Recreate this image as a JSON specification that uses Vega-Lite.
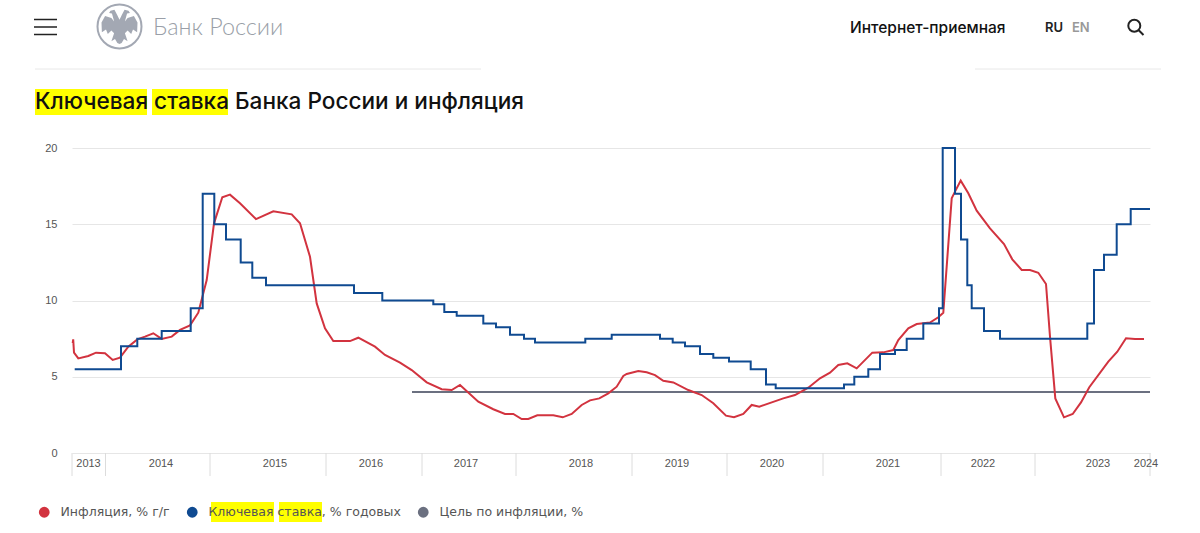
{"$schema":"https://vega.github.io/schema/vega-lite/v6.json","autosize":{"type":"none"},"padding":{"left":72,"top":148,"right":50,"bottom":80},"width":1078,"height":305,"background":"white",
"title":{"text":"Ключевая ставка Банка России и инфляция","anchor":"start","frame":"group","dx":-37,"offset":0,"dy":113,"font":"Inter","fontSize":22.6,"fontWeight":500,"color":"#111111"},
"config":{"view":{"stroke":null},"font":"Liberation Sans"},
"datasets":{
"inflation":[{"t":0.7,"v":7.2,"s":"Инфляция, % г/г"},{"t":1.2,"v":7.45,"s":"Инфляция, % г/г"},{"t":2,"v":6.58,"s":"Инфляция, % г/г"},{"t":6.3,"v":6.2,"s":"Инфляция, % г/г"},{"t":16.3,"v":6.36,"s":"Инфляция, % г/г"},{"t":24,"v":6.58,"s":"Инфляция, % г/г"},{"t":33,"v":6.54,"s":"Инфляция, % г/г"},{"t":40.7,"v":6.1,"s":"Инфляция, % г/г"},{"t":48,"v":6.25,"s":"Инфляция, % г/г"},{"t":56.3,"v":6.97,"s":"Инфляция, % г/г"},{"t":65.3,"v":7.45,"s":"Инфляция, % г/г"},{"t":73,"v":7.63,"s":"Инфляция, % г/г"},{"t":81.3,"v":7.85,"s":"Инфляция, % г/г"},{"t":89.7,"v":7.48,"s":"Инфляция, % г/г"},{"t":99.7,"v":7.63,"s":"Инфляция, % г/г"},{"t":108,"v":8.07,"s":"Инфляция, % г/г"},{"t":118,"v":8.37,"s":"Инфляция, % г/г"},{"t":126.3,"v":9.2,"s":"Инфляция, % г/г"},{"t":134.7,"v":11.34,"s":"Инфляция, % г/г"},{"t":142,"v":15.06,"s":"Инфляция, % г/г"},{"t":150.3,"v":16.77,"s":"Инфляция, % г/г"},{"t":158,"v":16.94,"s":"Инфляция, % г/г"},{"t":168,"v":16.37,"s":"Инфляция, % г/г"},{"t":184,"v":15.34,"s":"Инфляция, % г/г"},{"t":201.3,"v":15.85,"s":"Инфляция, % г/г"},{"t":219.7,"v":15.65,"s":"Инфляция, % г/г"},{"t":228,"v":15.06,"s":"Инфляция, % г/г"},{"t":238,"v":12.87,"s":"Инфляция, % г/г"},{"t":244.7,"v":9.81,"s":"Инфляция, % г/г"},{"t":253,"v":8.18,"s":"Инфляция, % г/г"},{"t":261.3,"v":7.34,"s":"Инфляция, % г/г"},{"t":278,"v":7.34,"s":"Инфляция, % г/г"},{"t":286.3,"v":7.56,"s":"Инфляция, % г/г"},{"t":303,"v":6.97,"s":"Инфляция, % г/г"},{"t":313,"v":6.43,"s":"Инфляция, % г/г"},{"t":328,"v":5.92,"s":"Инфляция, % г/г"},{"t":339.7,"v":5.44,"s":"Инфляция, % г/г"},{"t":354.7,"v":4.63,"s":"Инфляция, % г/г"},{"t":369.7,"v":4.18,"s":"Инфляция, % г/г"},{"t":379.7,"v":4.13,"s":"Инфляция, % г/г"},{"t":388,"v":4.46,"s":"Инфляция, % г/г"},{"t":406.3,"v":3.36,"s":"Инфляция, % г/г"},{"t":421.3,"v":2.87,"s":"Инфляция, % г/г"},{"t":433,"v":2.56,"s":"Инфляция, % г/г"},{"t":441.3,"v":2.56,"s":"Инфляция, % г/г"},{"t":449.7,"v":2.23,"s":"Инфляция, % г/г"},{"t":456.3,"v":2.23,"s":"Инфляция, % г/г"},{"t":465.3,"v":2.47,"s":"Инфляция, % г/г"},{"t":481.3,"v":2.47,"s":"Инфляция, % г/г"},{"t":490.7,"v":2.34,"s":"Инфляция, % г/г"},{"t":499.7,"v":2.56,"s":"Инфляция, % г/г"},{"t":509.7,"v":3.15,"s":"Инфляция, % г/г"},{"t":518,"v":3.45,"s":"Инфляция, % г/г"},{"t":527.3,"v":3.58,"s":"Инфляция, % г/г"},{"t":536.3,"v":3.91,"s":"Инфляция, % г/г"},{"t":544.7,"v":4.35,"s":"Инфляция, % г/г"},{"t":551.3,"v":5.05,"s":"Инфляция, % г/г"},{"t":554.7,"v":5.18,"s":"Инфляция, % г/г"},{"t":566.3,"v":5.38,"s":"Инфляция, % г/г"},{"t":574.7,"v":5.29,"s":"Инфляция, % г/г"},{"t":583,"v":5.11,"s":"Инфляция, % г/г"},{"t":591.3,"v":4.74,"s":"Инфляция, % г/г"},{"t":601.3,"v":4.63,"s":"Инфляция, % г/г"},{"t":616.3,"v":4.13,"s":"Инфляция, % г/г"},{"t":629.7,"v":3.8,"s":"Инфляция, % г/г"},{"t":641.3,"v":3.26,"s":"Инфляция, % г/г"},{"t":654,"v":2.45,"s":"Инфляция, % г/г"},{"t":662,"v":2.34,"s":"Инфляция, % г/г"},{"t":671.3,"v":2.56,"s":"Инфляция, % г/г"},{"t":679.7,"v":3.15,"s":"Инфляция, % г/г"},{"t":687.3,"v":3.04,"s":"Инфляция, % г/г"},{"t":711.3,"v":3.58,"s":"Инфляция, % г/г"},{"t":723,"v":3.8,"s":"Инфляция, % г/г"},{"t":736.3,"v":4.28,"s":"Инфляция, % г/г"},{"t":748,"v":4.9,"s":"Инфляция, % г/г"},{"t":758,"v":5.27,"s":"Инфляция, % г/г"},{"t":766.3,"v":5.77,"s":"Инфляция, % г/г"},{"t":775.3,"v":5.88,"s":"Инфляция, % г/г"},{"t":784.7,"v":5.55,"s":"Инфляция, % г/г"},{"t":800.3,"v":6.58,"s":"Инфляция, % г/г"},{"t":811.3,"v":6.6,"s":"Инфляция, % г/г"},{"t":821.3,"v":6.75,"s":"Инфляция, % г/г"},{"t":826.3,"v":7.41,"s":"Инфляция, % г/г"},{"t":836.3,"v":8.18,"s":"Инфляция, % г/г"},{"t":844.7,"v":8.46,"s":"Инфляция, % г/г"},{"t":858,"v":8.55,"s":"Инфляция, % г/г"},{"t":866.3,"v":8.9,"s":"Инфляция, % г/г"},{"t":871.3,"v":9.2,"s":"Инфляция, % г/г"},{"t":879.7,"v":16.7,"s":"Инфляция, % г/г"},{"t":883,"v":17.14,"s":"Инфляция, % г/г"},{"t":888.7,"v":17.86,"s":"Инфляция, % г/г"},{"t":896.3,"v":17.03,"s":"Инфляция, % г/г"},{"t":904.7,"v":15.89,"s":"Инфляция, % г/г"},{"t":918,"v":14.73,"s":"Инфляция, % г/г"},{"t":932,"v":13.7,"s":"Инфляция, % г/г"},{"t":940.3,"v":12.7,"s":"Инфляция, % г/г"},{"t":949.7,"v":12,"s":"Инфляция, % г/г"},{"t":958,"v":12,"s":"Инфляция, % г/г"},{"t":966.3,"v":11.82,"s":"Инфляция, % г/г"},{"t":974,"v":11.08,"s":"Инфляция, % г/г"},{"t":978,"v":7.63,"s":"Инфляция, % г/г"},{"t":983.3,"v":3.58,"s":"Инфляция, % г/г"},{"t":992,"v":2.34,"s":"Инфляция, % г/г"},{"t":1000.7,"v":2.56,"s":"Инфляция, % г/г"},{"t":1009,"v":3.32,"s":"Инфляция, % г/г"},{"t":1017.3,"v":4.31,"s":"Инфляция, % г/г"},{"t":1036.3,"v":5.99,"s":"Инфляция, % г/г"},{"t":1045.3,"v":6.64,"s":"Инфляция, % г/г"},{"t":1054,"v":7.52,"s":"Инфляция, % г/г"},{"t":1063,"v":7.48,"s":"Инфляция, % г/г"},{"t":1072,"v":7.48,"s":"Инфляция, % г/г"}],
"rate":[{"t":2.7,"v":5.5},{"t":49,"v":7},{"t":65.3,"v":7.5},{"t":89.7,"v":8},{"t":118.7,"v":9.5},{"t":130.7,"v":17},{"t":142.3,"v":15},{"t":154,"v":14},{"t":168.7,"v":12.5},{"t":180.3,"v":11.5},{"t":194,"v":11},{"t":282,"v":10.5},{"t":310.3,"v":10},{"t":361.3,"v":9.75},{"t":372.3,"v":9.25},{"t":384.7,"v":9},{"t":411.3,"v":8.5},{"t":424,"v":8.25},{"t":438,"v":7.75},{"t":452,"v":7.5},{"t":463,"v":7.25},{"t":513.3,"v":7.5},{"t":539.7,"v":7.75},{"t":588,"v":7.5},{"t":600.7,"v":7.25},{"t":613,"v":7},{"t":628,"v":6.5},{"t":641.3,"v":6.25},{"t":657,"v":6},{"t":678.7,"v":5.5},{"t":694,"v":4.5},{"t":703.7,"v":4.25},{"t":772,"v":4.5},{"t":782.3,"v":5},{"t":796.3,"v":5.5},{"t":808,"v":6.5},{"t":823,"v":6.75},{"t":834.7,"v":7.5},{"t":851.3,"v":8.5},{"t":867,"v":9.5},{"t":870.7,"v":20},{"t":883,"v":17},{"t":889,"v":14},{"t":895.3,"v":11},{"t":899.7,"v":9.5},{"t":912,"v":8},{"t":928,"v":7.5},{"t":1015.3,"v":8.5},{"t":1022,"v":12},{"t":1032,"v":13},{"t":1044.7,"v":15},{"t":1058.7,"v":16},{"t":1078,"v":16}],
"target":[{"t":340,"v":4},{"t":1078,"v":4}],
"ticks":[{"t":0},{"t":33.5},{"t":138},{"t":254},{"t":350},{"t":444},{"t":560},{"t":655},{"t":751},{"t":869},{"t":963},{"t":1078}],
"years":[{"t":16.5,"year":"2013"},{"t":89,"year":"2014"},{"t":203,"year":"2015"},{"t":299,"year":"2016"},{"t":394,"year":"2017"},{"t":509,"year":"2018"},{"t":605,"year":"2019"},{"t":700,"year":"2020"},{"t":816,"year":"2021"},{"t":911,"year":"2022"},{"t":1026,"year":"2023"},{"t":1074,"year":"2024"}]
},
"layer":[
{"data":{"values":[{"a":1}]},"mark":{"type":"rect","color":"#ffff00"},"encoding":{"x":{"value":-37},"x2":{"value":75},"y":{"value":-59},"y2":{"value":-33}}},
{"data":{"values":[{"a":1}]},"mark":{"type":"rect","color":"#ffff00"},"encoding":{"x":{"value":80},"x2":{"value":156},"y":{"value":-59},"y2":{"value":-33}}},
{"data":{"values":[{"a":1}]},"mark":{"type":"rect","color":"#ffff00"},"encoding":{"x":{"value":139},"x2":{"value":202},"y":{"value":354},"y2":{"value":374}}},
{"data":{"values":[{"a":1}]},"mark":{"type":"rect","color":"#ffff00"},"encoding":{"x":{"value":207},"x2":{"value":250},"y":{"value":354},"y2":{"value":374}}},
{"data":{"values":[{"a":1}]},"mark":{"type":"rule","color":"#e8e8e8","strokeWidth":1},"encoding":{"x":{"value":-37},"x2":{"value":409},"y":{"value":-79}}},
{"data":{"values":[{"a":1}]},"mark":{"type":"rule","color":"#e8e8e8","strokeWidth":1},"encoding":{"x":{"value":903},"x2":{"value":1089},"y":{"value":-79}}},
{"data":{"values":[{"name":"menu"}]},"mark":{"type":"point","shape":"M-1,-0.65 H1 M-1,0 H1 M-1,0.65 H1","color":"#222222","strokeWidth":1.6,"opacity":1,"fill":null},"encoding":{"x":{"value":-26.5},"y":{"value":-121},"size":{"value":529}}},
{"data":{"values":[{"name":"logo"}]},"mark":{"type":"point","shape":"circle","color":"#a3a8b3","strokeWidth":2,"opacity":1},"encoding":{"x":{"value":47.5},"y":{"value":-121.5},"size":{"value":1936}}},
{"data":{"values":[{"name":"eagle"}]},"mark":{"type":"point","shape":"M0,-0.35 L-0.12,-0.6 L-0.28,-0.9 L-0.5,-0.85 L-0.58,-0.72 L-0.42,-0.7 L-0.35,-0.45 L-0.3,-0.25 L-0.45,-0.45 L-0.8,-0.55 L-1,-0.2 L-0.98,0.35 L-0.75,0.2 L-0.65,0.45 L-0.45,0.25 L-0.3,0.4 L-0.45,0.85 L-0.25,0.72 L-0.12,0.95 L0,1 L0.12,0.95 L0.25,0.72 L0.45,0.85 L0.3,0.4 L0.45,0.25 L0.65,0.45 L0.75,0.2 L0.98,0.35 L1,-0.2 L0.8,-0.55 L0.45,-0.45 L0.3,-0.25 L0.35,-0.45 L0.42,-0.7 L0.58,-0.72 L0.5,-0.85 L0.28,-0.9 L0.12,-0.6 Z","filled":true,"color":"#a3a8b3","opacity":1},"encoding":{"x":{"value":47.5},"y":{"value":-122},"size":{"value":1296}}},
{"data":{"values":[{"label":"Банк России"}]},"mark":{"type":"text","align":"left","baseline":"middle","font":"Lato","fontSize":23.4,"fontWeight":300,"color":"#9a9fa8"},"encoding":{"x":{"value":81},"y":{"value":-120},"text":{"field":"label"}}},
{"data":{"values":[{"label":"Интернет-приемная"}]},"mark":{"type":"text","align":"left","baseline":"middle","font":"Inter","fontSize":15.5,"fontWeight":500,"color":"#111111"},"encoding":{"x":{"value":778},"y":{"value":-120},"text":{"field":"label"}}},
{"data":{"values":[{"label":"RU"}]},"mark":{"type":"text","align":"left","baseline":"middle","font":"Inter","fontSize":13,"fontWeight":600,"color":"#222222"},"encoding":{"x":{"value":973},"y":{"value":-120},"text":{"field":"label"}}},
{"data":{"values":[{"label":"EN"}]},"mark":{"type":"text","align":"left","baseline":"middle","font":"Inter","fontSize":13,"fontWeight":600,"color":"#999999"},"encoding":{"x":{"value":1000},"y":{"value":-120},"text":{"field":"label"}}},
{"data":{"values":[{"name":"search"}]},"mark":{"type":"point","shape":"M0.6,-0.15 A0.75,0.75 0 1 1 -0.9,-0.15 A0.75,0.75 0 1 1 0.6,-0.15 Z M0.4,0.4 L1,1","color":"#222222","strokeWidth":2,"opacity":1,"fill":null},"encoding":{"x":{"value":1063.5},"y":{"value":-121},"size":{"value":256}}},
{"data":{"name":"ticks"},"mark":{"type":"rule","color":"#dcdcdc","strokeWidth":1},"encoding":{"x":{"field":"t","type":"quantitative","scale":{"domain":[0,1078],"nice":false,"zero":false},"axis":null},"y":{"datum":0,"type":"quantitative"},"y2":{"value":328}}},
{"data":{"name":"years"},"mark":{"type":"text","baseline":"middle","dy":11,"fontSize":11,"font":"Liberation Sans","color":"#555555"},"encoding":{"x":{"field":"t","type":"quantitative"},"y":{"datum":0,"type":"quantitative"},"text":{"field":"year"}}},
{"data":{"name":"target"},"transform":[{"calculate":"'Цель по инфляции, %'","as":"s"}],"mark":{"type":"line","strokeWidth":2},"encoding":{"x":{"field":"t","type":"quantitative"},"y":{"field":"v","type":"quantitative","scale":{"domain":[0,20],"nice":false},"axis":{"values":[0,5,10,15,20],"title":null,"grid":true,"gridColor":"#e6e6e6","domain":false,"ticks":false,"labelPadding":15,"labelFontSize":11,"labelColor":"#555555","labelFont":"Liberation Sans"}},"color":{"field":"s","type":"nominal","scale":{"domain":["Инфляция, % г/г","Ключевая ставка, % годовых","Цель по инфляции, %"],"range":["#d2333f","#0f4a91","#6b7080"]},"legend":{"title":null,"orient":"none","legendX":-34,"legendY":358,"direction":"horizontal","columns":3,"symbolType":"circle","symbolSize":28,"symbolStrokeWidth":5.5,"labelFont":"DejaVu Sans","labelFontSize":12.5,"labelColor":"#555555","labelOffset":10,"labelLimit":400,"columnPadding":8,"gridAlign":"none"}}}},
{"data":{"name":"inflation"},"mark":{"type":"line","strokeWidth":2},"encoding":{"x":{"field":"t","type":"quantitative"},"y":{"field":"v","type":"quantitative"},"color":{"field":"s","type":"nominal"}}},
{"data":{"name":"rate"},"transform":[{"calculate":"'Ключевая ставка, % годовых'","as":"s"}],"mark":{"type":"line","interpolate":"step-after","strokeWidth":2},"encoding":{"x":{"field":"t","type":"quantitative"},"y":{"field":"v","type":"quantitative"},"color":{"field":"s","type":"nominal"}}}
]}
